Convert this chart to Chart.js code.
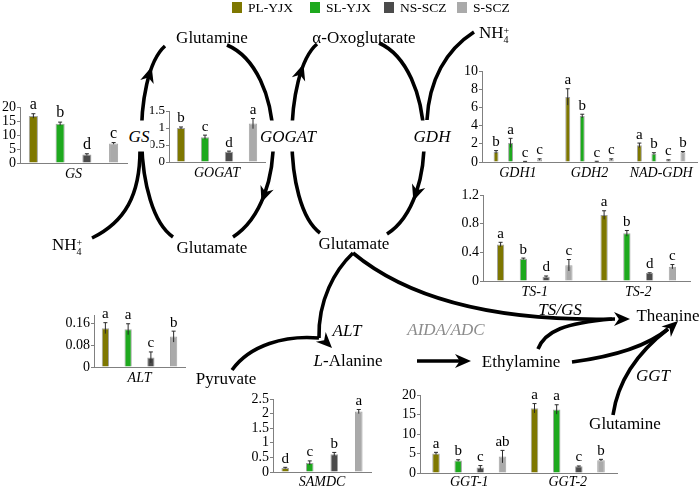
<!DOCTYPE html>
<html>
<head>
<meta charset="utf-8">
<script src="https://cdn.jsdelivr.net/npm/chart.js@4.4.1/dist/chart.umd.min.js"></script>
<style>
  body { margin: 0; width: 700px; height: 489px; overflow: hidden; background: #fff; position: relative;
         font-family: 'Liberation Serif', 'Times New Roman', serif; }
  #diagram { position: absolute; left: 0; top: 0; }
  .box { position: absolute; }
  .lbl { position: absolute; transform: translate(-50%, -50%); font-size: 17px; line-height: 1; white-space: nowrap; color: #000; }
  .it { font-style: italic; }
  .mask { background: #fff; padding: 7px 1px; }
  .ch { display: inline-block; font-size: 10px; line-height: 9px; vertical-align: -5px; text-align: left; }
  .leg { position: absolute; top: 1px; font-size: 13.5px; line-height: 13px; white-space: nowrap; }
  .leg i { display: inline-block; width: 10px; height: 11px; vertical-align: -1px; margin-right: 6px; }
</style>
</head>
<body>
<canvas id="diagram" width="700" height="489"></canvas>
<div id="panels"></div>
<div id="legend"></div>

<div class="lbl" style="left:212px;top:37px">Glutamine</div>
<div class="lbl" style="left:364px;top:37px">α-Oxoglutarate</div>
<div class="lbl" style="left:494px;top:34px">NH<span class="ch">+<br>4</span></div>
<div class="lbl it mask" style="left:139px;top:136px">GS</div>
<div class="lbl it mask" style="left:288px;top:136px">GOGAT</div>
<div class="lbl it mask" style="left:432px;top:136px">GDH</div>
<div class="lbl" style="left:212px;top:247px">Glutamate</div>
<div class="lbl" style="left:354px;top:243px">Glutamate</div>
<div class="lbl" style="left:67px;top:246px">NH<span class="ch">+<br>4</span></div>
<div class="lbl it" style="left:347px;top:330px">ALT</div>
<div class="lbl" style="left:348px;top:360px"><span class="it">L</span>-Alanine</div>
<div class="lbl" style="left:226px;top:378px">Pyruvate</div>
<div class="lbl it" style="left:446px;top:329px;color:#8c8c8c">AIDA/ADC</div>
<div class="lbl it" style="left:560px;top:309px">TS/GS</div>
<div class="lbl" style="left:668px;top:315px">Theanine</div>
<div class="lbl" style="left:521px;top:361px">Ethylamine</div>
<div class="lbl it" style="left:653px;top:375px">GGT</div>
<div class="lbl" style="left:625px;top:423px">Glutamine</div>

<script>
const groups = ['PL-YJX', 'SL-YJX', 'NS-SCZ', 'S-SCZ'];
const groupColors = ['#7e7700', '#1ea91e', '#4b4b4b', '#aaaaaa'];

// rows = groups, columns = genes
const gsGenes = ['GS'];
const gsMean = [[16.8], [14.0], [3.0], [7.0]];
const gsErr = [[0.8], [0.6], [0.3], [0.3]];
const gsSig = [['a'], ['b'], ['d'], ['c']];
const gsTicks = [0, 5, 10, 15, 20];

const gogatGenes = ['GOGAT'];
const gogatMean = [[1.0], [0.73], [0.30], [1.13]];
const gogatErr = [[0.03], [0.06], [0.02], [0.15]];
const gogatSig = [['b'], ['c'], ['d'], ['a']];
const gogatTicks = [0, 0.5, 1, 1.5];

const gdhGenes = ['GDH1', 'GDH2', 'NAD-GDH'];
const gdhMean = [[1.1, 7.15, 1.83], [2.1, 5.05, 0.92], [0.05, 0.05, 0.2], [0.27, 0.27, 1.07]];
const gdhErr = [[0.15, 0.9, 0.25], [0.5, 0.2, 0.1], [0.02, 0.03, 0.04], [0.08, 0.08, 0.08]];
const gdhSig = [['b', 'a', 'a'], ['a', 'b', 'b'], ['c', 'c', 'c'], ['c', 'c', 'b']];
const gdhTicks = [0, 2, 4, 6, 8, 10];

const tsGenes = ['TS-1', 'TS-2'];
const tsMean = [[0.51, 0.92], [0.31, 0.665], [0.06, 0.11], [0.22, 0.2]];
const tsErr = [[0.03, 0.06], [0.01, 0.04], [0.01, 0.005], [0.08, 0.03]];
const tsSig = [['a', 'a'], ['b', 'b'], ['d', 'd'], ['c', 'c']];
const tsTicks = [0, 0.4, 0.8, 1.2];

const altGenes = ['ALT'];
const altMean = [[0.142], [0.138], [0.035], [0.111]];
const altErr = [[0.02], [0.02], [0.02], [0.02]];
const altSig = [['a'], ['a'], ['c'], ['b']];
const altTicks = [0, 0.08, 0.16];

const samdcGenes = ['SAMDC'];
const samdcMean = [[0.14], [0.31], [0.61], [2.07]];
const samdcErr = [[0.02], [0.07], [0.06], [0.07]];
const samdcSig = [['d'], ['c'], ['b'], ['a']];
const samdcTicks = [0, 0.5, 1, 1.5, 2, 2.5];

const ggtGenes = ['GGT-1', 'GGT-2'];
const ggtMean = [[5.0, 16.6], [3.2, 16.3], [1.4, 1.7], [4.2, 3.3]];
const ggtErr = [[0.3, 1.2], [0.2, 1.2], [0.5, 0.1], [1.6, 0.2]];
const ggtSig = [['a', 'a'], ['b', 'a'], ['c', 'c'], ['ab', 'b']];
const ggtTicks = [0, 5, 10, 15, 20];

const FONT = "'Liberation Serif', 'Times New Roman', serif";
Chart.defaults.font.family = FONT;
Chart.defaults.color = '#000';

// error bars and significance letters
const errorBars = {
  id: 'errorBars',
  afterDatasetsDraw(chart, args, opts) {
    const ctx = chart.ctx, y = chart.scales.y;
    chart.data.datasets.forEach((ds, i) => {
      chart.getDatasetMeta(i).data.forEach((bar, j) => {
        const v = ds.data[j], e = ds.errors[j];
        const top = y.getPixelForValue(v + e);
        const bot = y.getPixelForValue(Math.max(v - e, 0));
        ctx.save();
        ctx.strokeStyle = '#2a2a2a';
        ctx.lineWidth = 1;
        ctx.beginPath();
        ctx.moveTo(bar.x, top); ctx.lineTo(bar.x, bot);
        ctx.moveTo(bar.x - 2, top); ctx.lineTo(bar.x + 2, top);
        ctx.stroke();
        ctx.fillStyle = '#000';
        ctx.font = (opts.size || 15) + 'px ' + FONT;
        ctx.textAlign = 'center';
        ctx.textBaseline = 'bottom';
        ctx.fillText(ds.letters[j], bar.x, top - 1);
        ctx.restore();
      });
    });
  }
};

function barPanel(genes, mean, err, sig, ticks, yMax, box, opt) {
  const YW = 36, PT = 24, PR = 4, XH = opt.xh || 20;
  const left = Math.round(box.axis) - YW, top = Math.round(box.top) - PT;
  const w = Math.round(box.right) - left + PR, h = Math.round(box.zero) + XH - top;
  const div = document.createElement('div');
  div.className = 'box';
  div.style.left = left + 'px';
  div.style.top = top + 'px';
  const cv = document.createElement('canvas');
  cv.width = w; cv.height = h;
  div.appendChild(cv);
  document.getElementById('panels').appendChild(div);

  new Chart(cv, {
    type: 'bar',
    data: {
      labels: genes,
      datasets: groups.map((g, i) => ({
        label: g,
        data: mean[i],
        errors: err[i],
        letters: sig[i],
        backgroundColor: groupColors[i],
        borderColor: '#a3a3a3',
        borderWidth: 1,
        barPercentage: opt.bp,
        categoryPercentage: opt.cp || 1
      }))
    },
    options: {
      responsive: false,
      animation: false,
      devicePixelRatio: 1,
      layout: { padding: { top: PT, right: PR, left: 0, bottom: 0 } },
      plugins: { legend: { display: false }, tooltip: { enabled: false }, errorBars: { size: opt.letter || 15 } },
      scales: {
        x: {
          grid: { display: false, drawTicks: false },
          border: { color: '#808080' },
          ticks: { font: { size: 14, style: 'italic' }, padding: opt.xpad == null ? 3 : opt.xpad, maxRotation: 0, autoSkip: false },
          afterFit: s => { s.height = XH; }
        },
        y: {
          min: 0, max: yMax,
          grid: { drawOnChartArea: false, tickLength: 3, color: '#808080' },
          border: { color: '#808080' },
          ticks: { font: { size: opt.tick || 14 }, padding: 1, autoSkip: false, callback: v => String(+v.toFixed(3)) },
          afterBuildTicks: s => { s.ticks = ticks.map(v => ({ value: v })); },
          afterFit: s => { s.width = YW; }
        }
      }
    },
    plugins: [errorBars]
  });
}

barPanel(gsGenes, gsMean, gsErr, gsSig, gsTicks, 20, { axis: 20, right: 127, top: 107, zero: 163 }, { bp: 0.34, letter: 16 });
barPanel(gogatGenes, gogatMean, gogatErr, gogatSig, gogatTicks, 1.5, { axis: 169, right: 265, top: 111, zero: 162 }, { bp: 0.35, tick: 13 });
barPanel(gdhGenes, gdhMean, gdhErr, gdhSig, gdhTicks, 10, { axis: 482, right: 697, top: 71, zero: 162 }, { bp: 0.34, cp: 0.81 });
barPanel(tsGenes, tsMean, tsErr, tsSig, tsTicks, 1.2, { axis: 483, right: 690, top: 195, zero: 281 }, { bp: 0.32, cp: 0.88 });
barPanel(altGenes, altMean, altErr, altSig, altTicks, 0.19, { axis: 94, right: 185, top: 315, zero: 367 }, { bp: 0.32 });
barPanel(samdcGenes, samdcMean, samdcErr, samdcSig, samdcTicks, 2.5, { axis: 273, right: 371, top: 399, zero: 472 }, { bp: 0.31, xh: 17, xpad: 2 });
barPanel(ggtGenes, ggtMean, ggtErr, ggtSig, ggtTicks, 20, { axis: 420, right: 617, top: 395, zero: 473 }, { bp: 0.34, cp: 0.9, xpad: 1, xh: 16 });

// legend
const legendLeft = [232, 310, 384, 457];
const legend = document.getElementById('legend');
groups.forEach((g, i) => {
  const el = document.createElement('div');
  el.className = 'leg';
  el.style.left = legendLeft[i] + 'px';
  el.innerHTML = '<i style="background:' + groupColors[i] + '"></i>' + g;
  legend.appendChild(el);
});

// pathway arrows
const g = document.getElementById('diagram').getContext('2d');
g.lineWidth = 3.6;
g.strokeStyle = '#000';
g.fillStyle = '#000';

function bez(p, t) {
  const u = 1 - t;
  const a = u * u * u, b = 3 * u * u * t, c = 3 * u * t * t, d = t * t * t;
  return [a * p[0] + b * p[2] + c * p[4] + d * p[6], a * p[1] + b * p[3] + c * p[5] + d * p[7]];
}
function tan(p, t) {
  const u = 1 - t;
  const dx = 3 * u * u * (p[2] - p[0]) + 6 * u * t * (p[4] - p[2]) + 3 * t * t * (p[6] - p[4]);
  const dy = 3 * u * u * (p[3] - p[1]) + 6 * u * t * (p[5] - p[3]) + 3 * t * t * (p[7] - p[5]);
  const n = Math.hypot(dx, dy);
  return [dx / n, dy / n];
}
function curve(p) {
  g.beginPath();
  g.moveTo(p[0], p[1]);
  g.bezierCurveTo(p[2], p[3], p[4], p[5], p[6], p[7]);
  g.stroke();
}
function head(tx, ty, ux, uy, L = 16, W = 7) {
  const nx = -uy, ny = ux;
  const bx = tx - ux * L, by = ty - uy * L;
  g.beginPath();
  g.moveTo(tx, ty);
  g.lineTo(bx + nx * W, by + ny * W);
  g.lineTo(tx - ux * L * 0.7, ty - uy * L * 0.7);
  g.lineTo(bx - nx * W, by - ny * W);
  g.closePath();
  g.fill();
}
function midHead(p, t) {
  const [x, y] = bez(p, t), [ux, uy] = tan(p, t);
  head(x + ux * 8, y + uy * 8, ux, uy);
}

// Glutamine / Glutamate cycle
const gsArc = [173, 237, 133, 210, 132, 75, 165, 46];
const gogatArc = [227, 45, 285, 70, 290, 200, 233, 237];
curve(gsArc); midHead(gsArc, 0.8);
curve(gogatArc); midHead(gogatArc, 0.75);
curve([92, 238, 125, 222, 140, 195, 140, 150]);

// α-Oxoglutarate / Glutamate cycle
const oxoArc = [320, 233, 282, 205, 284, 72, 317, 44];
const gdhArc = [379, 43, 435, 68, 440, 200, 387, 234];
curve(oxoArc); midHead(oxoArc, 0.8);
curve(gdhArc); midHead(gdhArc, 0.75);
curve([474, 32, 446, 50, 429, 80, 427, 120]);

// Glutamate -> ALT, Pyruvate -> ALT
curve([353, 253, 335, 270, 318, 300, 319, 338]);
curve([232, 370, 250, 345, 285, 335, 319, 338]);
head(332, 348, 0.7, 0.7, 16, 7);

// Glutamate -> Theanine
curve([353, 253, 400, 292, 480, 322, 615, 319]);
head(630, 319, 1, 0);
// Ethylamine -> TS/GS
curve([538, 349, 545, 331, 565, 323, 612, 319]);
// L-Alanine -> Ethylamine
g.beginPath(); g.moveTo(417, 361); g.lineTo(460, 361); g.stroke();
head(471, 361, 1, 0);
// Ethylamine -> Theanine, Glutamine -> Theanine
curve([572, 362, 610, 357, 645, 348, 668, 329]);
curve([613, 415, 618, 380, 638, 352, 668, 329]);
head(678, 321, 0.74, -0.67);
</script>
</body>
</html>
